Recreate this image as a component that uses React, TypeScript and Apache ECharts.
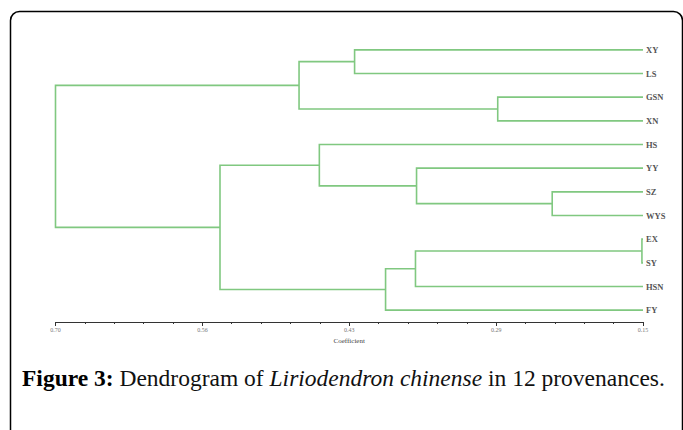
import React, { useEffect, useRef } from "react";
import * as echarts from "echarts";

// Leaves (top to bottom)
const leaves = ["XY", "LS", "GSN", "XN", "HS", "YY", "SZ", "WYS", "EX", "SY", "HSN", "FY"];
// Linkage: nodes 0..11 are leaves, 12+ are clusters in order of merge
const linkLeft = [8, 6, 2, 12, 5, 15, 0, 4, 18, 19, 20];
const linkRight = [9, 7, 3, 10, 13, 11, 1, 16, 14, 17, 21];
const linkHeight = [0.151, 0.235, 0.286, 0.363, 0.362, 0.391, 0.42, 0.453, 0.472, 0.546, 0.7];
// Axis
const axisMin = 0.15;
const axisMax = 0.7;
const majorTicks = [0.7, 0.5625, 0.425, 0.2875, 0.15];
const majorLabels = ["0.70", "0.56", "0.43", "0.29", "0.15"];
const minorTicks = [
  0.6725, 0.645, 0.6175, 0.59, 0.535, 0.5075, 0.48, 0.4525, 0.3975, 0.37, 0.3425, 0.315,
  0.26, 0.2325, 0.205, 0.1775,
];

function buildLinks() {
  const ys: number[] = leaves.map((_, i) => i);
  const hs: number[] = leaves.map(() => axisMin);
  const rows: number[][] = [];
  linkLeft.forEach((l, k) => {
    const r = linkRight[k];
    const h = linkHeight[k];
    rows.push([h, ys[l], ys[r], hs[l], hs[r]]);
    ys.push((ys[l] + ys[r]) / 2);
    hs.push(h);
  });
  return rows;
}

const GRID_TOP = 38;
const GRID_BOTTOM = 108;
const GRID_H = 430 - GRID_TOP - GRID_BOTTOM;

export default function App() {
  const ref = useRef<HTMLDivElement>(null);
  useEffect(() => {
    if (!ref.current) return;
    const chart = echarts.init(ref.current, undefined, { renderer: "svg" });
    const lineColor = "#80c880";
    chart.setOption({
      animation: false,
      grid: { left: 55.5, right: 40, top: GRID_TOP, bottom: GRID_BOTTOM },
      xAxis: [
        {
          type: "value",
          inverse: true,
          min: axisMin,
          max: axisMax,
          position: "bottom",
          splitLine: { show: false },
          axisLine: { show: true, onZero: false, lineStyle: { color: "#333", width: 1 } },
          axisTick: { show: true, length: 4, customValues: majorTicks, lineStyle: { color: "#333" } },
          axisLabel: {
            customValues: majorTicks,
            formatter: (v: number) => {
              const i = majorTicks.findIndex((m) => Math.abs(m - v) < 1e-6);
              return i >= 0 ? majorLabels[i] : "";
            },
            fontSize: 6,
            color: "#777",
            fontFamily: "Liberation Serif",
            margin: 5,
          },
          name: "Coefficient",
          nameLocation: "middle",
          nameGap: 15,
          nameTextStyle: { fontSize: 7, color: "#444", fontFamily: "Liberation Serif" },
        },
        {
          type: "value",
          inverse: true,
          min: axisMin,
          max: axisMax,
          position: "top",
          offset: -GRID_H,
          splitLine: { show: false },
          axisLine: { show: false, onZero: false },
          axisTick: {
            show: true,
            inside: true,
            length: 2,
            customValues: minorTicks,
            lineStyle: { color: "#333" },
          },
          axisLabel: { show: false },
        },
      ],
      yAxis: {
        type: "value",
        inverse: true,
        min: -0.5,
        max: leaves.length - 0.5,
        position: "right",
        splitLine: { show: false },
        axisLine: { show: false, onZero: false },
        axisTick: { show: false },
        axisLabel: {
          customValues: leaves.map((_, i) => i),
          formatter: (v: number) => leaves[Math.round(v)] ?? "",
          fontSize: 8.5,
          fontWeight: "bold",
          color: "#555",
          fontFamily: "Liberation Serif",
          margin: 3,
        },
      },
      series: [
        {
          type: "custom",
          xAxisIndex: 0,
          data: buildLinks(),
          renderItem: (params: any, api: any) => {
            const h = api.value(0);
            const yl = api.value(1);
            const yr = api.value(2);
            const hl = api.value(3);
            const hr = api.value(4);
            const p1 = api.coord([hl, yl]);
            const p2 = api.coord([h, yl]);
            const p3 = api.coord([h, yr]);
            const p4 = api.coord([hr, yr]);
            return {
              type: "polyline",
              shape: { points: [p1, p2, p3, p4] },
              style: { stroke: lineColor, lineWidth: 1.6, fill: null },
            };
          },
        },
      ],
      graphic: [
        {
          type: "rect",
          shape: { x: 10.5, y: 11.5, width: 672, height: 460, r: 9 },
          style: { fill: "none", stroke: "#000", lineWidth: 1.5 },
        },
        {
          type: "text",
          left: 22,
          top: 366,
          style: {
            text: "{b|Figure 3:} Dendrogram of {i|Liriodendron chinense} in 12 provenances.",
            font: "23.5px 'Liberation Serif'",
            fill: "#111",
            rich: {
              b: { fontWeight: "bold", fontSize: 23.5, fontFamily: "Liberation Serif", fill: "#000" },
              i: { fontStyle: "italic", fontSize: 23.5, fontFamily: "Liberation Serif", fill: "#111" },
            },
          },
        },
      ],
    });
    return () => chart.dispose();
  }, []);
  return (
    <div
      ref={ref}
      style={{ position: "fixed", left: 0, top: 0, width: 683, height: 430, background: "#fff" }}
    />
  );
}
